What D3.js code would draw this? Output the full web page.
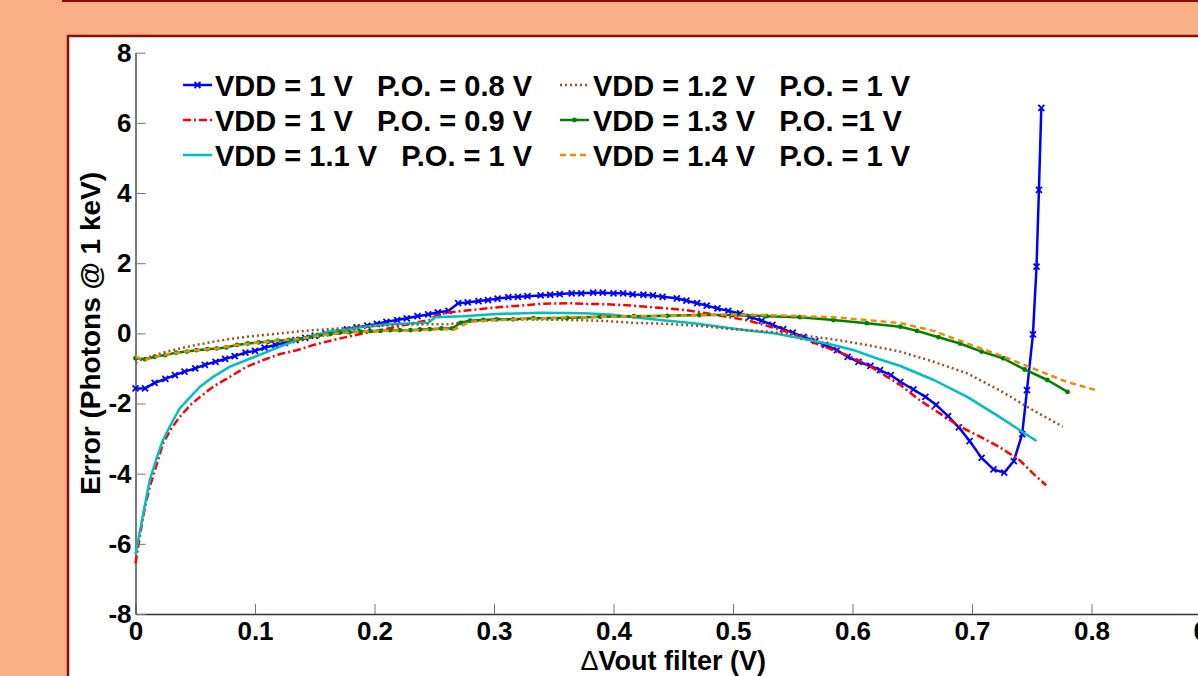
<!DOCTYPE html>
<html>
<head>
<meta charset="utf-8">
<script src="https://cdn.jsdelivr.net/npm/d3@7"></script>
<style>
  html, body { margin: 0; padding: 0; background: #FAB084; overflow: hidden; }
  svg { display: block; font-family: Arial, "Liberation Sans", sans-serif; }
  .tick text { font-weight: bold; fill: #000; }
</style>
</head>
<body>
<svg width="1198" height="676"></svg>
<script>
// data: [delta Vout (V), error (photons @ 1 keV)]
const vdd10po08 = [
  [0, -1.57], [0.008, -1.57], [0.016, -1.41], [0.025, -1.30], [0.033, -1.19], [0.041, -1.09],
  [0.050, -1.00], [0.058, -0.90], [0.067, -0.81], [0.075, -0.73], [0.083, -0.65], [0.092, -0.55],
  [0.100, -0.50], [0.108, -0.41], [0.117, -0.33], [0.125, -0.27], [0.134, -0.19], [0.142, -0.13],
  [0.150, -0.07], [0.159, 0.00], [0.167, 0.05], [0.177, 0.11], [0.185, 0.17], [0.194, 0.22],
  [0.202, 0.27], [0.210, 0.33], [0.219, 0.38], [0.227, 0.43], [0.236, 0.49], [0.245, 0.54],
  [0.253, 0.60], [0.262, 0.64], [0.270, 0.86], [0.278, 0.88], [0.287, 0.92], [0.295, 0.95],
  [0.303, 0.99], [0.312, 1.03], [0.320, 1.04], [0.328, 1.06], [0.339, 1.08], [0.347, 1.10],
  [0.355, 1.12], [0.365, 1.14], [0.373, 1.14], [0.383, 1.16], [0.391, 1.16], [0.400, 1.14],
  [0.408, 1.14], [0.416, 1.11], [0.425, 1.10], [0.433, 1.08], [0.441, 1.04], [0.453, 1.00],
  [0.461, 0.93], [0.470, 0.86], [0.478, 0.79], [0.487, 0.71], [0.496, 0.64], [0.506, 0.57],
  [0.514, 0.47], [0.524, 0.36], [0.533, 0.24], [0.542, 0.12], [0.550, 0.02], [0.559, -0.10],
  [0.569, -0.22], [0.577, -0.33], [0.587, -0.48], [0.596, -0.67], [0.605, -0.81], [0.615, -0.93],
  [0.623, -1.05], [0.632, -1.19], [0.640, -1.38], [0.651, -1.60], [0.661, -1.81], [0.670, -2.04],
  [0.680, -2.36], [0.689, -2.68], [0.698, -3.07], [0.708, -3.55], [0.718, -3.88], [0.727, -3.97],
  [0.735, -3.64], [0.742, -2.87], [0.746, -1.62], [0.751, -0.03], [0.754, 1.90], [0.756, 4.09],
  [0.758, 6.43]
];
const vdd10po09 = [
  [0, -6.56], [0.004, -5.70], [0.008, -4.94], [0.012, -4.37], [0.018, -3.71], [0.023, -3.14],
  [0.030, -2.71], [0.037, -2.38], [0.046, -2.04], [0.054, -1.81], [0.065, -1.52], [0.079, -1.24],
  [0.093, -0.95], [0.107, -0.76], [0.121, -0.59], [0.135, -0.48], [0.149, -0.33], [0.163, -0.21],
  [0.177, -0.10], [0.191, 0.00], [0.205, 0.09], [0.219, 0.19], [0.232, 0.29], [0.246, 0.38],
  [0.252, 0.52], [0.263, 0.60], [0.274, 0.64], [0.302, 0.74], [0.329, 0.81], [0.339, 0.84],
  [0.361, 0.86], [0.378, 0.84], [0.394, 0.83], [0.411, 0.80], [0.428, 0.76], [0.445, 0.71],
  [0.461, 0.66], [0.478, 0.57], [0.495, 0.47], [0.511, 0.38], [0.528, 0.22], [0.545, 0.05],
  [0.562, -0.19], [0.578, -0.40], [0.595, -0.62], [0.612, -0.88], [0.629, -1.24], [0.640, -1.47],
  [0.656, -1.90], [0.673, -2.28], [0.690, -2.66], [0.707, -2.95], [0.723, -3.24], [0.740, -3.62],
  [0.751, -3.99], [0.762, -4.33]
];
const vdd11po10 = [
  [0, -6.30], [0.0065, -5.13], [0.012, -4.18], [0.018, -3.52], [0.023, -3.04], [0.030, -2.57],
  [0.037, -2.14], [0.046, -1.81], [0.054, -1.52], [0.065, -1.24], [0.079, -0.95], [0.093, -0.76],
  [0.107, -0.57], [0.121, -0.38], [0.135, -0.19], [0.149, -0.05], [0.163, 0.05], [0.177, 0.11],
  [0.191, 0.19], [0.205, 0.24], [0.219, 0.27], [0.232, 0.29], [0.245, 0.30], [0.251, 0.46],
  [0.274, 0.49], [0.302, 0.55], [0.339, 0.59], [0.375, 0.57], [0.397, 0.54], [0.417, 0.46],
  [0.439, 0.38], [0.467, 0.29], [0.489, 0.19], [0.511, 0.09], [0.534, 0.00], [0.550, -0.10],
  [0.564, -0.19], [0.584, -0.33], [0.601, -0.48], [0.620, -0.71], [0.640, -0.93], [0.668, -1.33],
  [0.696, -1.81], [0.723, -2.38], [0.740, -2.76], [0.754, -3.07]
];
const vdd12po10 = [
  [0, -0.84], [0.004, -0.76], [0.012, -0.67], [0.023, -0.55], [0.037, -0.43], [0.051, -0.33],
  [0.065, -0.24], [0.079, -0.16], [0.093, -0.10], [0.107, -0.05], [0.121, 0.00], [0.135, 0.05],
  [0.149, 0.09], [0.163, 0.12], [0.177, 0.16], [0.191, 0.19], [0.219, 0.24], [0.246, 0.26],
  [0.263, 0.26], [0.274, 0.33], [0.302, 0.38], [0.333, 0.40], [0.361, 0.38], [0.389, 0.36],
  [0.417, 0.30], [0.445, 0.27], [0.472, 0.21], [0.500, 0.12], [0.528, 0.05], [0.556, -0.05],
  [0.584, -0.17], [0.612, -0.33], [0.640, -0.52], [0.668, -0.81], [0.696, -1.14], [0.723, -1.62],
  [0.751, -2.19], [0.776, -2.66]
];
const vdd13po10 = [
  [0, -0.71], [0.008, -0.74], [0.016, -0.67], [0.025, -0.62], [0.034, -0.55], [0.043, -0.52],
  [0.051, -0.48], [0.060, -0.45], [0.068, -0.43], [0.076, -0.40], [0.085, -0.33], [0.094, -0.29],
  [0.103, -0.26], [0.111, -0.24], [0.119, -0.21], [0.128, -0.19], [0.136, -0.16], [0.145, -0.11],
  [0.153, -0.07], [0.163, -0.02], [0.171, 0.02], [0.179, 0.03], [0.188, 0.05], [0.196, 0.07],
  [0.205, 0.07], [0.213, 0.09], [0.221, 0.09], [0.230, 0.09], [0.238, 0.11], [0.246, 0.12],
  [0.256, 0.14], [0.265, 0.14], [0.272, 0.30], [0.280, 0.36], [0.291, 0.38], [0.302, 0.40],
  [0.316, 0.40], [0.333, 0.43], [0.361, 0.44], [0.389, 0.47], [0.417, 0.49], [0.445, 0.50],
  [0.472, 0.52], [0.500, 0.52], [0.528, 0.49], [0.556, 0.46], [0.584, 0.38], [0.612, 0.29],
  [0.640, 0.19], [0.654, 0.07], [0.672, -0.11], [0.690, -0.29], [0.708, -0.52], [0.726, -0.71],
  [0.744, -1.03], [0.763, -1.33], [0.780, -1.67]
];
const vdd14po10 = [
  [0, -0.67], [0.008, -0.76], [0.016, -0.67], [0.034, -0.55], [0.051, -0.48], [0.068, -0.43],
  [0.085, -0.33], [0.103, -0.26], [0.119, -0.21], [0.136, -0.16], [0.153, -0.07], [0.171, 0.01],
  [0.188, 0.05], [0.205, 0.07], [0.221, 0.08], [0.238, 0.09], [0.255, 0.12], [0.267, 0.11],
  [0.280, 0.33], [0.302, 0.38], [0.329, 0.41], [0.361, 0.46], [0.389, 0.47], [0.417, 0.49],
  [0.445, 0.49], [0.472, 0.52], [0.500, 0.54], [0.528, 0.52], [0.556, 0.49], [0.584, 0.46],
  [0.612, 0.38], [0.640, 0.29], [0.668, 0.07], [0.696, -0.29], [0.723, -0.62], [0.751, -1.00],
  [0.779, -1.38], [0.804, -1.62]
];

const seriesNames = [
  'VDD = 1 V   P.O. = 0.8 V',
  'VDD = 1 V   P.O. = 0.9 V',
  'VDD = 1.1 V   P.O. = 1 V',
  'VDD = 1.2 V   P.O. = 1 V',
  'VDD = 1.3 V   P.O. =1 V',
  'VDD = 1.4 V   P.O. = 1 V'
];
const seriesValues = [vdd10po08, vdd10po09, vdd11po10, vdd12po10, vdd13po10, vdd14po10];

const xTicks = [0, 0.1, 0.2, 0.3, 0.4, 0.5, 0.6, 0.7, 0.8, 0.9];
const xTickLabels = ['0', '0.1', '0.2', '0.3', '0.4', '0.5', '0.6', '0.7', '0.8', '0.9'];
const yTicks = [-8, -6, -4, -2, 0, 2, 4, 6, 8];
const yTickLabels = ['-8', '-6', '-4', '-2', '0', '2', '4', '6', '8'];

// styles per series
const styles = [
  { color: '#0000FF', dash: null, marker: 'x' },
  { color: '#FF0000', dash: '8,3,2,3', marker: null },
  { color: '#00BFBF', dash: null, marker: null },
  { color: '#A0501E', dash: '2,3', marker: null },
  { color: '#008000', dash: null, marker: 'dot' },
  { color: '#EE8A0A', dash: '6,4', marker: null }
];

const svg = d3.select('svg');

// slide frame
svg.append('rect')
  .attr('x', 63).attr('y', -40).attr('width', 1200).attr('height', 41)
  .attr('fill', '#FAB084').attr('stroke', '#8B0A0A').attr('stroke-width', 2);
svg.append('rect')
  .attr('x', 68).attr('y', 36).attr('width', 1200).attr('height', 700)
  .attr('fill', '#fff').attr('stroke', '#8B0A0A').attr('stroke-width', 2.5);

const xScale = d3.scaleLinear().domain([0, 0.9]).range([135.5, 1211]);
const yScale = d3.scaleLinear().domain([-8, 8]).range([614, 52.7]);

// axes, ticks pointing inward like matlab
const xAxis = svg.append('g')
  .attr('transform', `translate(0,${yScale(-8)})`)
  .call(d3.axisBottom(xScale)
    .tickValues(xTicks)
    .tickFormat((d, i) => xTickLabels[i])
    .tickSizeInner(-10).tickSizeOuter(0).tickPadding(8));
xAxis.select('.domain').attr('stroke', '#333').attr('stroke-width', 1.3);
xAxis.selectAll('.tick line').attr('stroke', '#777');
xAxis.selectAll('.tick text').style('font-size', '26px');

const yAxis = svg.append('g')
  .attr('transform', `translate(${xScale(0)},0)`)
  .call(d3.axisLeft(yScale)
    .tickValues(yTicks)
    .tickFormat((d, i) => yTickLabels[i])
    .tickSizeInner(-10).tickSizeOuter(0).tickPadding(4));
yAxis.select('.domain').attr('stroke', '#333').attr('stroke-width', 1.3);
yAxis.selectAll('.tick line').attr('stroke', '#777');
yAxis.selectAll('.tick text').style('font-size', '26px');

// axis titles
const xTitle = svg.append('text')
  .attr('x', (xScale(0) + xScale(0.9)) / 2)
  .attr('y', 670)
  .attr('text-anchor', 'middle')
  .style('font-size', '27px').style('font-weight', 'bold');
xTitle.append('tspan').style('font-weight', 'normal').text('\u0394');
xTitle.append('tspan').text('Vout filter (V)');

svg.append('text')
  .attr('transform', `translate(100,${(yScale(-8) + yScale(8)) / 2}) rotate(-90)`)
  .attr('text-anchor', 'middle')
  .style('font-size', '28px').style('font-weight', 'bold')
  .text('Error (Photons @ 1 keV)');

// lines
const line = d3.line().x(d => xScale(d[0])).y(d => yScale(d[1]));
const plot = svg.append('g');

seriesValues.forEach((vals, i) => {
  const st = styles[i];
  plot.append('path')
    .datum(vals)
    .attr('d', line)
    .attr('fill', 'none')
    .attr('stroke', st.color)
    .attr('stroke-width', 2.5)
    .attr('stroke-linejoin', 'round')
    .attr('stroke-dasharray', st.dash);
  if (st.marker === 'x') {
    plot.selectAll(null).data(vals).join('path')
      .attr('d', d => {
        const x = xScale(d[0]), y = yScale(d[1]), r = 3;
        return `M${x - r},${y - r}L${x + r},${y + r}M${x - r},${y + r}L${x + r},${y - r}`;
      })
      .attr('stroke', st.color).attr('stroke-width', 1.8);
  } else if (st.marker === 'dot') {
    plot.selectAll(null).data(vals).join('circle')
      .attr('cx', d => xScale(d[0])).attr('cy', d => yScale(d[1]))
      .attr('r', 2.4).attr('fill', st.color);
  }
});

// legend
const legend = svg.append('g');
const legendCols = [{ x0: 183, x1: 212, tx: 215 }, { x0: 560, x1: 589, tx: 593 }];
seriesNames.forEach((name, i) => {
  const col = legendCols[Math.floor(i / 3)];
  const row = i % 3;
  const cy = 85 + row * 35;
  const st = styles[i];
  legend.append('line')
    .attr('x1', col.x0).attr('x2', col.x1).attr('y1', cy).attr('y2', cy)
    .attr('stroke', st.color).attr('stroke-width', 2.5)
    .attr('stroke-dasharray', st.dash);
  const mx = (col.x0 + col.x1) / 2;
  if (st.marker === 'x') {
    legend.append('path')
      .attr('d', `M${mx - 3},${cy - 3}L${mx + 3},${cy + 3}M${mx - 3},${cy + 3}L${mx + 3},${cy - 3}`)
      .attr('stroke', st.color).attr('stroke-width', 1.8);
  } else if (st.marker === 'dot') {
    legend.append('circle').attr('cx', mx).attr('cy', cy).attr('r', 2.4).attr('fill', st.color);
  }
  legend.append('text')
    .attr('x', col.tx).attr('y', cy + 11)
    .style('font-size', '29px').style('font-weight', 'bold')
    .style('white-space', 'pre')
    .text(name);
});
</script>
</body>
</html>
